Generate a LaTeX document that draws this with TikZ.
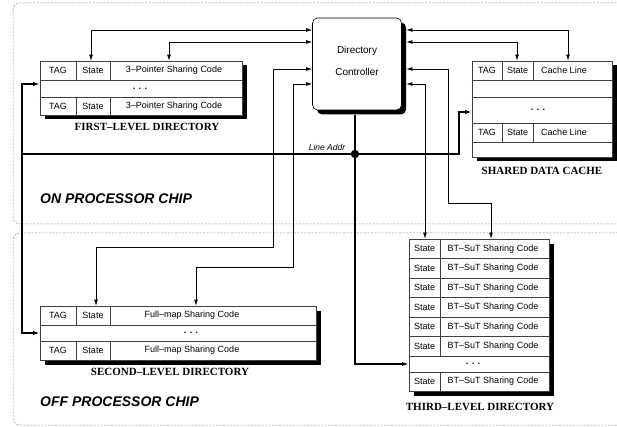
\documentclass[tikz,border=0pt]{standalone}
\usepackage{fontspec}
\setmainfont{Liberation Serif}
\setsansfont{Liberation Sans}
\usetikzlibrary{arrows.meta,positioning,shadows}
\colorlet{ChipGray}{black!45}
\colorlet{RuleGray}{black!75}

\begin{document}
\begin{tikzpicture}[x=1pt,y=-1pt,
    chip/.style={draw=ChipGray,dash pattern=on 2pt off 1.5pt,line width=0.5pt,rounded corners=7pt},
    tbl/.style={draw=RuleGray,line width=0.6pt,fill=white,inner sep=0pt,
      drop shadow={fill=black,opacity=1,shadow xshift=4.5pt,shadow yshift=-4.5pt}},
    rule/.style={draw=RuleGray,line width=0.6pt},
    cell/.style={font=\sffamily\fontsize{9}{9}\selectfont,inner sep=0pt},
    caption/.style={font=\bfseries\fontsize{11}{12}\selectfont,inner sep=0pt},
    chiplabel/.style={font=\sffamily\bfseries\itshape\fontsize{14}{16}\selectfont,anchor=west,inner sep=0pt},
    link/.style={draw=black,line width=0.7pt,{Latex[length=6pt,width=3.8pt]}-{Latex[length=6pt,width=3.8pt]}},
    bus/.style={draw=black,line width=1.4pt,-{Latex[length=6.5pt,width=4.2pt]}},
    junction/.style={circle,fill=black,inner sep=0pt,minimum size=8.5pt}
  ]
  \useasboundingbox (0,0) rectangle (617,427);

  % processor chip boundaries
  \draw[chip] (13,3) rectangle (660,224);
  \draw[chip] (13,233) rectangle (660,425);
  \node[chiplabel] (onchip) at (40,199) {ON PROCESSOR CHIP};
  \node[chiplabel] (offchip) at (40,402) {OFF PROCESSOR CHIP};

  % directory controller
  \node[tbl,draw=black,rounded corners=5pt,minimum width=89pt,minimum height=92pt] (ctrl) at (357,64) {};
  \node[align=center,font=\sffamily\fontsize{10}{22}\selectfont] (ctrlname) at (357,61) {Directory\\Controller};

  % first-level directory
  \node[tbl,minimum width=202pt,minimum height=54pt] (fld) at (141,88) {};
  \draw[rule] (fld.west |- 0,80) -- (fld.east |- 0,80);
  \draw[rule] (fld.west |- 0,97) -- (fld.east |- 0,97);
  \draw[rule] (fld.north -| 76,0) -- (76,80) (76,97) -- (fld.south -| 76,0);
  \draw[rule] (fld.north -| 110,0) -- (110,80) (110,97) -- (fld.south -| 110,0);
  \node[cell] (f1tag) at (58,70.5) {TAG};
  \node[cell] (f1st) at (93,70.5) {State};
  \node[cell] (f1code) at (174,70.5) {3–Pointer Sharing Code};
  \node[cell] (fdots) at (140,88.5) {\textbf{. . .}};
  \node[cell] (f2tag) at (58,106) {TAG};
  \node[cell] (f2st) at (93,106) {State};
  \node[cell] (f2code) at (174,106) {3–Pointer Sharing Code};
  \node[caption] (fldcap) at (147,127) {FIRST–LEVEL DIRECTORY};

  % shared data cache
  \node[tbl,minimum width=140pt,minimum height=96pt] (sdc) at (542,109) {};
  \draw[rule] (sdc.west |- 0,80) -- (sdc.east |- 0,80);
  \draw[rule] (sdc.west |- 0,97) -- (sdc.east |- 0,97);
  \draw[rule] (sdc.west |- 0,123) -- (sdc.east |- 0,123);
  \draw[rule] (sdc.west |- 0,142) -- (sdc.east |- 0,142);
  \draw[rule] (sdc.north -| 502,0) -- (502,80) (502,123) -- (502,142);
  \draw[rule] (sdc.north -| 533,0) -- (533,80) (533,123) -- (533,142);
  \node[cell] (s1tag) at (487,70.5) {TAG};
  \node[cell] (s1st) at (517.5,70.5) {State};
  \node[cell] (s1line) at (564,70.5) {Cache Line};
  \node[cell] (sdots) at (538,110) {\textbf{. . .}};
  \node[cell] (s2tag) at (487,132.5) {TAG};
  \node[cell] (s2st) at (517.5,132.5) {State};
  \node[cell] (s2line) at (564,132.5) {Cache Line};
  \node[caption] (sdccap) at (542,171) {SHARED DATA CACHE};

  % second-level directory
  \node[tbl,minimum width=276pt,minimum height=54pt] (sld) at (178,333) {};
  \draw[rule] (sld.west |- 0,325) -- (sld.east |- 0,325);
  \draw[rule] (sld.west |- 0,341) -- (sld.east |- 0,341);
  \draw[rule] (sld.north -| 76,0) -- (76,325) (76,341) -- (sld.south -| 76,0);
  \draw[rule] (sld.north -| 110,0) -- (110,325) (110,341) -- (sld.south -| 110,0);
  \node[cell] (l1tag) at (58,315.5) {TAG};
  \node[cell] (l1st) at (93,315.5) {State};
  \node[cell] (l1code) at (192,315.5) {Full–map Sharing Code};
  \node[cell] (ldots) at (191,333) {\textbf{. . .}};
  \node[cell] (l2tag) at (58,350.5) {TAG};
  \node[cell] (l2st) at (93,350.5) {State};
  \node[cell] (l2code) at (192,350.5) {Full–map Sharing Code};
  \node[caption] (sldcap) at (170,372) {SECOND–LEVEL DIRECTORY};

  % third-level directory
  \node[tbl,minimum width=140pt,minimum height=152pt] (tld) at (479,315) {};
  \foreach \i in {0,...,5} {
    \pgfmathsetmacro{\top}{239+19.5*\i}
    \draw[rule] (tld.west |- 0,\top+19.5) -- (tld.east |- 0,\top+19.5);
    \draw[rule] (440,\top) -- (440,\top+19.5);
    \node[cell] (t\i st) at (424.5,\top+9.75) {State};
    \node[cell] (t\i code) at (493,\top+9.75) {BT–SuT Sharing Code};
  }
  \draw[rule] (tld.west |- 0,372) -- (tld.east |- 0,372);
  \draw[rule] (440,372) -- (tld.south -| 440,0);
  \node[cell] (tdots) at (473,364) {\textbf{. . .}};
  \node[cell] (t7st) at (424.5,381.5) {State};
  \node[cell] (t7code) at (493,381.5) {BT–SuT Sharing Code};
  \node[caption] (tldcap) at (480,407) {THIRD–LEVEL DIRECTORY};

  % controller links
  \draw[link] (ctrl.west |- 0,30) -| (fld.north -| 91,0);
  \draw[link] (ctrl.west |- 0,42) -| (fld.north -| 169,0);
  \draw[link] (ctrl.west |- 0,69) -| (273,247) -| (sld.north -| 96,0);
  \draw[link] (ctrl.west |- 0,84) -| (293,267) -| (sld.north -| 196,0);
  \draw[link] ([xshift=4.5pt]ctrl.east |- 0,30) -| (sdc.north -| 568,0);
  \draw[link] ([xshift=4.5pt]ctrl.east |- 0,42) -| (sdc.north -| 517,0);
  \draw[link] ([xshift=4.5pt]ctrl.east |- 0,69) -| (448,203) -| (tld.north -| 491,0);
  \draw[link] ([xshift=4.5pt]ctrl.east |- 0,84) -| (tld.north -| 425,0);

  % line address bus
  \node[junction] (jct) at (355,154) {};
  \coordinate (lbend) at (22,154);
  \coordinate (rbend) at (459,154);
  \draw[bus,-] ([yshift=-4.5pt]ctrl.south -| jct) -- (jct);
  \draw[bus] (jct) |- (tld.west |- 0,364);
  \draw[bus] (jct) -- (rbend) |- (sdc.west |- 0,112);
  \draw[bus] (jct) -- (lbend) |- (fld.west |- 0,84);
  \draw[bus] (lbend) |- (sld.west |- 0,333);
  \node[font=\sffamily\itshape\fontsize{8.5}{9}\selectfont,inner sep=0pt] (addr) at (327,147) {Line Addr};
\end{tikzpicture}
\end{document}
